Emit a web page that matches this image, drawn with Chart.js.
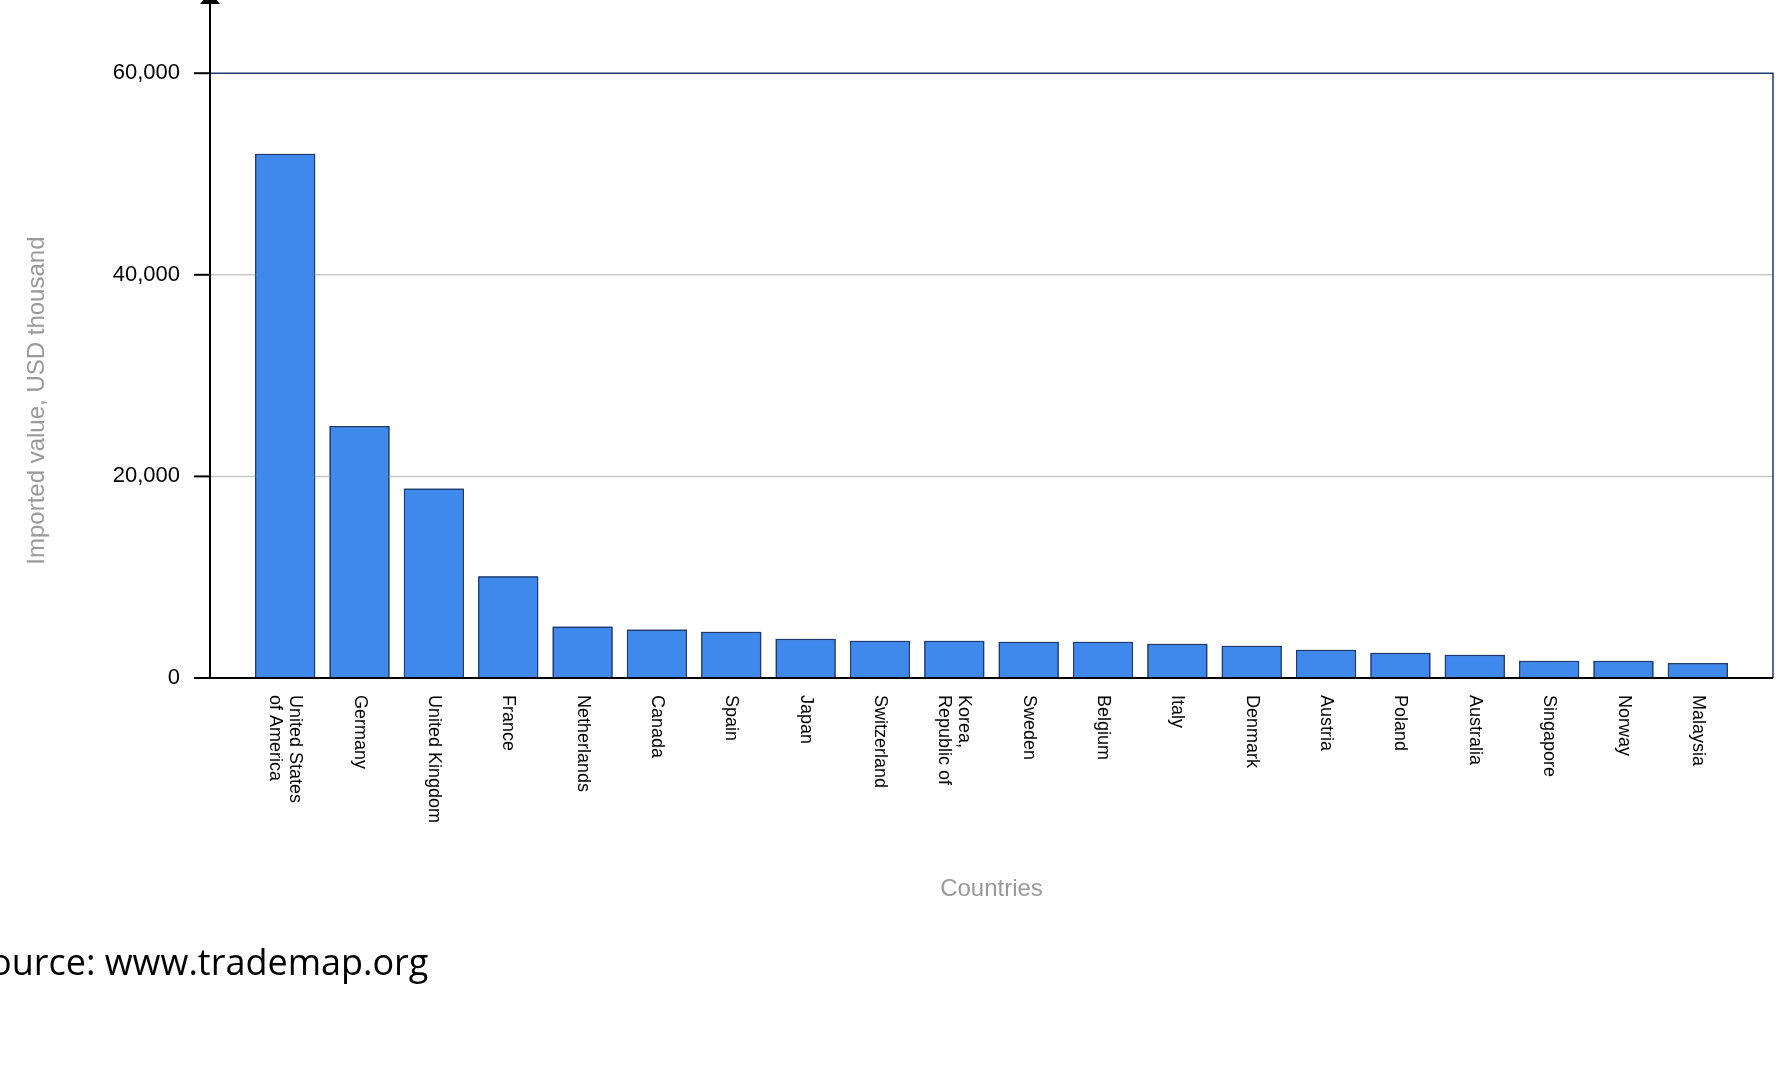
<!DOCTYPE html>
<html><head><meta charset="utf-8">
<script src="https://cdn.jsdelivr.net/npm/chart.js@4"></script>
<style>html,body{margin:0;background:#fff;width:1785px;height:1072px;overflow:hidden}#w{position:absolute;left:0;top:0;width:1785px;height:1072px}
#src{position:absolute;left:-10px;top:937px;font:36px "Open Sans","Liberation Sans",sans-serif;color:#000}</style>
</head><body><div id="w"><canvas id="c"></canvas></div><div id="src">ource: www.trademap.org</div>
<script>
const countries=["United States\nof America","Germany","United Kingdom","France","Netherlands","Canada","Spain","Japan","Switzerland","Korea,\nRepublic of","Sweden","Belgium","Italy","Denmark","Austria","Poland","Australia","Singapore","Norway","Malaysia"];
const imported=[52000,25000,18800,10100,5100,4800,4600,3900,3700,3700,3600,3600,3400,3200,2800,2500,2300,1700,1700,1500];
const yTicks=[0,20000,40000,60000];
const G=38,L=210+G,B=678,R=1773-G;
const deco={id:'deco',afterDraw(ch){const c=ch.ctx,a=ch.chartArea,x=ch.scales.x;const l=a.left-G,r=a.right+G;c.save();
c.strokeStyle='#c8c8c8';c.lineWidth=1.5;[20000,40000].forEach(v=>{const p=ch.scales.y.getPixelForValue(v);c.beginPath();c.moveTo(l,p);c.lineTo(r,p);c.stroke();});
ch.getDatasetMeta(0).data.forEach(b=>b.draw(c));
c.strokeStyle='#1f3a6e';c.lineWidth=1.5;c.beginPath();c.moveTo(l,a.top);c.lineTo(r,a.top);c.lineTo(r,a.bottom);c.stroke();
c.strokeStyle='#000';c.lineWidth=2;c.beginPath();c.moveTo(l,0);c.lineTo(l,a.bottom);c.lineTo(r,a.bottom);c.stroke();
c.fillStyle='#000';c.beginPath();c.moveTo(l-10,4);c.lineTo(l+10,4);c.lineTo(l,-8);c.fill();
c.lineWidth=2;yTicks.forEach(v=>{const p=ch.scales.y.getPixelForValue(v);c.beginPath();c.moveTo(l-16,p);c.lineTo(l,p);c.stroke();});
c.font='18px "Liberation Sans",Arial';c.fillStyle='#000';c.textBaseline='middle';c.textAlign='left';
countries.forEach((s,i)=>{const px=x.getPixelForTick(i);const lines=s.split('\n');c.save();c.translate(px,a.bottom+17);c.rotate(Math.PI/2);
lines.forEach((ln,j)=>{c.fillText(ln,0,-(lines.length-1)*10+j*20);});c.restore();});
c.fillStyle='#999';c.font='24px "Liberation Sans",Arial';c.textAlign='center';c.fillText('Countries',(l+r)/2,889);
c.save();c.translate(37,(a.top+a.bottom)/2+25);c.rotate(-Math.PI/2);c.fillText('Imported value, USD thousand',0,0);c.restore();
c.restore();}};
new Chart(document.getElementById('c'),{type:'bar',
data:{labels:countries,datasets:[{data:imported,backgroundColor:'#3f88ec',borderColor:'#1f3a6e',borderWidth:1.5,categoryPercentage:0.81,barPercentage:1}]},
options:{responsive:true,maintainAspectRatio:false,animation:false,
layout:{padding:{top:6,right:1785-R,bottom:0,left:0}},
plugins:{legend:{display:false},tooltip:{enabled:false}},
scales:{x:{grid:{display:false},border:{display:false},ticks:{display:false},afterFit(s){s.height=1072-B;}},
y:{min:0,max:60000,afterFit(s){s.width=L;},afterBuildTicks(s){s.ticks=yTicks.map(v=>({value:v}));},
grid:{display:false},border:{display:false},
ticks:{color:'#000',padding:22+G,font:{size:22,family:'"Liberation Sans",Arial'},callback:v=>v.toLocaleString('en-US')}}}},
plugins:[deco]});
</script></body></html>
